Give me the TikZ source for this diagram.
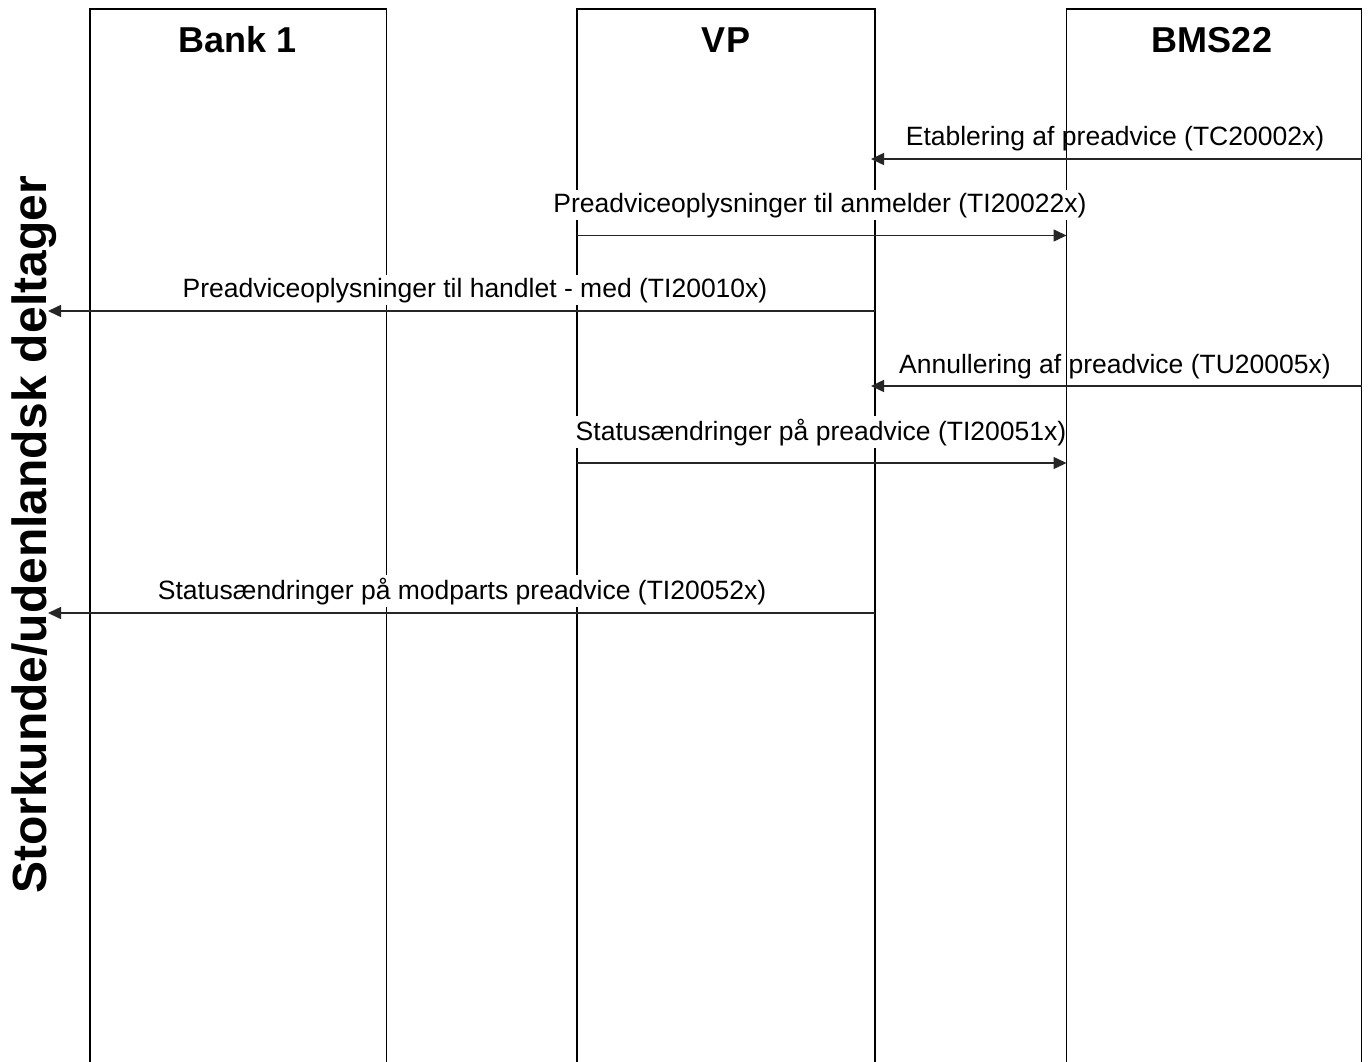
\documentclass[tikz,border=0pt]{standalone}
\usepackage{fontspec}
\setmainfont{Liberation Sans}
\usetikzlibrary{arrows.meta}
\begin{document}
\begin{tikzpicture}[x=1pt,y=-1pt,
  lane/.style={draw=black, line width=1.9pt, outer sep=0pt, inner sep=0pt},
  lanetitle/.style={font=\bfseries\fontsize{36}{40}\selectfont, inner sep=0pt},
  msg/.style={draw=black!85, line width=1.5pt, -{Triangle[length=13pt,width=12pt]}},
  msgleft/.style={msg, shorten >=-4pt},
  lbl/.style={font=\fontsize{26.5}{30}\selectfont, anchor=base, inner sep=0pt},
  lblw/.style={lbl, fill=white, inner ysep=2.5pt}]
\clip (0,0) rectangle (1370,1062);
\fill[white] (0,0) rectangle (1370,1062);

% lanes (open at the bottom: lower edge lies outside the page)
\node[lane, minimum width=296.5pt, minimum height=1071pt] (bank) at (238.25,544.5) {};
\node[lane, minimum width=298pt, minimum height=1071pt] (vp) at (726,544.5) {};
\node[lane, minimum width=295pt, minimum height=1071pt] (bms) at (1214,544.5) {};

\node[lanetitle] (tbank) at (238,40) {Bank 1};
\node[lanetitle] (tvp) at (726,40) {VP};
\node[lanetitle] (tbms) at (1212,40) {BMS22};

% side participant
\node[font=\bfseries\fontsize{48}{52}\selectfont, rotate=90, anchor=base, inner sep=0pt] (side) at (46,535) {Storkunde/udenlandsk deltager};
\coordinate (s3) at (48,311);
\coordinate (s6) at (48,613);

% messages
\draw[msgleft] (bms.east |- 0,159) -- (vp.east |- 0,159);
\draw[msg] (vp.west |- 0,235.5) -- (bms.west |- 0,235.5);
\draw[msg] (vp.east |- s3) -- (s3);
\draw[msgleft] (bms.east |- 0,386) -- (vp.east |- 0,386);
\draw[msg] (vp.west |- 0,463) -- (bms.west |- 0,463);
\draw[msg] (vp.east |- s6) -- (s6);

% labels
\node[lbl] (l1) at (1115,146) {Etablering af preadvice (TC20002x)};
\node[lblw] (l2) at (820,212) {Preadviceoplysninger til anmelder (TI20022x)};
\node[lblw] (l3) at (475,297) {Preadviceoplysninger til handlet - med (TI20010x)};
\node[lbl] (l4) at (1115,373) {Annullering af preadvice (TU20005x)};
\node[lblw] (l5) at (821,440) {Statusændringer på preadvice (TI20051x)};
\node[lblw] (l6) at (462,599) {Statusændringer på modparts preadvice (TI20052x)};
\end{tikzpicture}
\end{document}
